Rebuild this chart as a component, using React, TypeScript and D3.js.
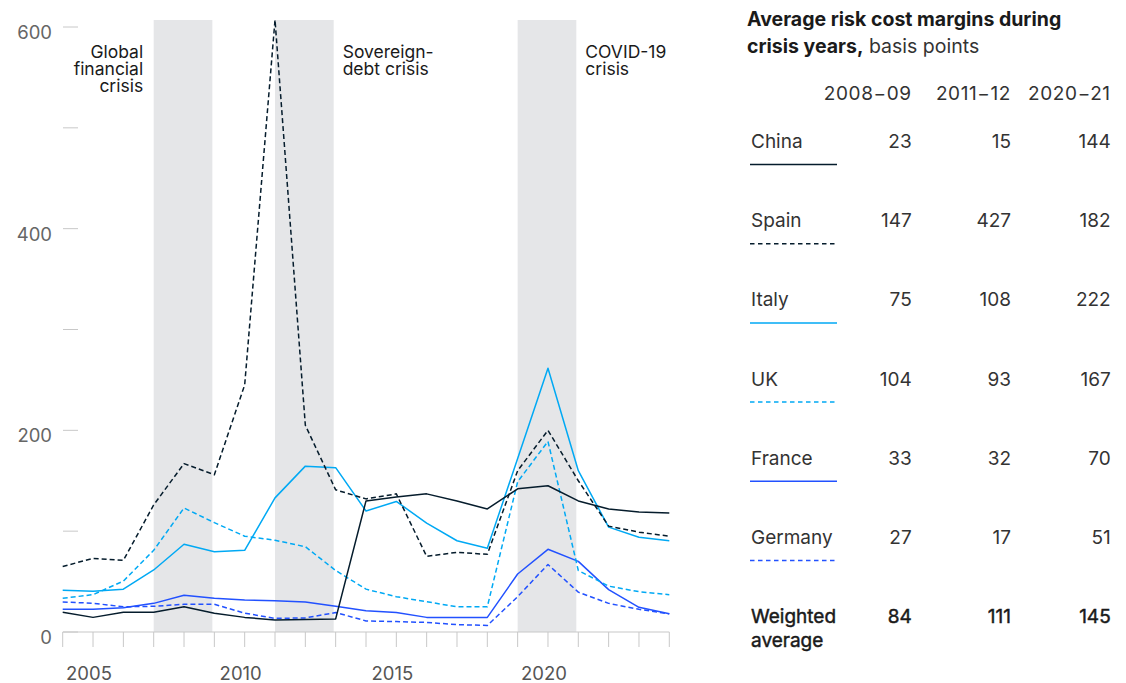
import React from 'react';
import * as d3 from 'd3';

const years = [2004, 2005, 2006, 2007, 2008, 2009, 2010, 2011, 2012, 2013, 2014, 2015, 2016, 2017, 2018, 2019, 2020, 2021, 2022, 2023, 2024];

const china = [19.5, 14.5, 19.5, 19.5, 25, 18.5, 14.5, 12, 12.5, 13, 130, 134, 137, 130, 122, 142, 145, 130, 122, 119, 118];
const spain = [65, 73, 71, 126, 167, 156, 245, 607, 205, 141, 132, 137, 75, 79, 77, 160, 200, 150, 105, 99, 95];
const italy = [41.5, 40.5, 42.5, 61.5, 87, 79.5, 81, 133, 164.5, 163, 120, 129.5, 108, 90.5, 83, 172, 261.5, 160, 104, 94, 90.5];
const uk = [33.5, 37, 50.5, 81, 123, 108.5, 95, 91, 84.6, 61, 42.5, 35, 30, 25, 25, 149, 189, 61, 45.5, 40, 37];
const france = [22.5, 22.5, 24, 28.4, 36.4, 33.4, 31.7, 31, 29.8, 25.5, 21, 19.3, 14.5, 14.5, 14.5, 57.5, 82, 70, 42, 24.5, 18];
const germany = [29.8, 28.5, 25, 25.5, 27.5, 27.5, 18.7, 13.5, 14, 19.3, 11, 10.3, 9.5, 7.3, 6.5, 35, 67, 39.5, 28.4, 22.5, 18];

const crises = [
  { label: ['Global', 'financial', 'crisis'], start: 2007, end: 2009, side: 'left' },
  { label: ['Sovereign-', 'debt crisis'], start: 2011, end: 2013, side: 'right' },
  { label: ['COVID-19', 'crisis'], start: 2019, end: 2021, side: 'right' },
];

const yTicks = [0, 100, 200, 300, 400, 500, 600];
const yLabelTicks = [0, 200, 400, 600];
const xLabelTicks = [2005, 2010, 2015, 2020];

const tableHeaders = ['2008−09', '2011−12', '2020−21'];
const tableCountries = ['China', 'Spain', 'Italy', 'UK', 'France', 'Germany'];
const tableChina = [23, 15, 144];
const tableSpain = [147, 427, 182];
const tableItaly = [75, 108, 222];
const tableUK = [104, 93, 167];
const tableFrance = [33, 32, 70];
const tableGermany = [27, 17, 51];
const tableWeighted = [84, 111, 145];

const NAVY = '#051c2c';
const CYAN = '#00a9f4';
const BLUE = '#2251ff';

const seriesList = [
  { name: 'China', values: china, color: NAVY, dash: undefined as string | undefined, table: tableChina },
  { name: 'Spain', values: spain, color: NAVY, dash: '5,3', table: tableSpain },
  { name: 'Italy', values: italy, color: CYAN, dash: undefined, table: tableItaly },
  { name: 'UK', values: uk, color: CYAN, dash: '5,3', table: tableUK },
  { name: 'France', values: france, color: BLUE, dash: undefined, table: tableFrance },
  { name: 'Germany', values: germany, color: BLUE, dash: '5,3', table: tableGermany },
];

const FONT = 'Inter, "Liberation Sans", Arial, sans-serif';

export default function App() {
  const W = 1126;
  const H = 683;
  const x = d3.scaleLinear().domain([2004, 2024]).range([62.7, 669.3]);
  const y = d3.scaleLinear().domain([0, 600]).range([632, 27]);
  const line = d3
    .line<number>()
    .x((_, i) => x(years[i]))
    .y((d) => y(d));

  const colX = [911.7, 1011, 1110.7];
  const rowBase = (i: number) => 148 + i * 79.2;
  const TS = 19;

  return (
    <svg
      width={W}
      height={H}
      style={{ position: 'absolute', left: 0, top: 0, fontFamily: FONT }}
    >
      <rect x={0} y={0} width={W} height={H} fill="#fff" />
      {crises.map((c, i) => (
        <rect
          key={i}
          x={x(c.start)}
          y={20}
          width={x(c.end) - x(c.start) - 2}
          height={y(0) - 20}
          fill="#e5e6e8"
        />
      ))}
      {crises.map((c, i) => {
        const lx = c.side === 'left' ? x(c.start) - 10.5 : x(c.end) + 7;
        return (
          <text
            key={'l' + i}
            x={lx}
            y={58}
            fontSize={17.5}
            fill="#1a1a1a"
            textAnchor={c.side === 'left' ? 'end' : 'start'}
          >
            {c.label.map((t, j) => (
              <tspan key={j} x={lx} y={58 + j * 17}>
                {t}
              </tspan>
            ))}
          </text>
        );
      })}
      {yTicks.map((t) => (
        <line key={t} x1={63} x2={78} y1={y(t)} y2={y(t)} stroke="#c8c8c8" strokeWidth={1} />
      ))}
      {yLabelTicks.map((t) => (
        <text key={'yl' + t} x={52} y={y(t) + 12} fontSize={18.5} fill="#666" textAnchor="end">
          {t}
        </text>
      ))}
      <line x1={x(2004)} x2={x(2024)} y1={y(0)} y2={y(0)} stroke="#c8c8c8" strokeWidth={1.2} />
      {years.map((yr) => (
        <line key={yr} x1={x(yr)} x2={x(yr)} y1={y(0)} y2={y(0) + 15} stroke="#c8c8c8" strokeWidth={1} />
      ))}
      {xLabelTicks.map((yr) => (
        <text key={'xl' + yr} x={x(yr) - 4} y={680} fontSize={18.5} fill="#555" textAnchor="middle">
          {yr}
        </text>
      ))}
      {seriesList
        .slice()
        .reverse()
        .map((s) => (
          <path
            key={s.name}
            d={line(s.values) || ''}
            fill="none"
            stroke={s.color}
            strokeWidth={1.5}
            strokeDasharray={s.dash}
            strokeLinejoin="round"
          />
        ))}
      <text x={747} y={26} fontSize={19.5} fontWeight={700} fill="#1a1a1a">
        Average risk cost margins during
      </text>
      <text x={747} y={53} fontSize={19.5} fill="#1a1a1a">
        <tspan fontWeight={700}>crisis years,</tspan>
        <tspan fill="#333"> basis points</tspan>
      </text>
      {tableHeaders.map((h, i) => (
        <text key={h} x={colX[i]} y={100} fontSize={TS} fill="#333" textAnchor="end" letterSpacing={0.6}>
          {h}
        </text>
      ))}
      {seriesList.map((s, i) => (
        <g key={'row' + s.name}>
          <text x={751} y={rowBase(i)} fontSize={TS} fill="#333">
            {tableCountries[i]}
          </text>
          {s.table.map((v, j) => (
            <text key={j} x={colX[j]} y={rowBase(i)} fontSize={TS} fill="#333" textAnchor="end">
              {v}
            </text>
          ))}
          <line
            x1={750}
            x2={837}
            y1={rowBase(i) + 16.5}
            y2={rowBase(i) + 16.5}
            stroke={s.color}
            strokeWidth={1.5}
            strokeDasharray={s.dash ? '4.5,3.5' : undefined}
          />
        </g>
      ))}
      <text x={751} y={rowBase(6)} fontSize={TS} fill="#1a1a1a" stroke="#1a1a1a" strokeWidth={0.45}>
        <tspan x={751} y={rowBase(6)}>Weighted</tspan>
        <tspan x={751} y={rowBase(6) + 23.5}>average</tspan>
      </text>
      {tableWeighted.map((v, j) => (
        <text key={'w' + j} x={colX[j]} y={rowBase(6)} fontSize={TS} fill="#1a1a1a" stroke="#1a1a1a" strokeWidth={0.45} textAnchor="end">
          {v}
        </text>
      ))}
    </svg>
  );
}
